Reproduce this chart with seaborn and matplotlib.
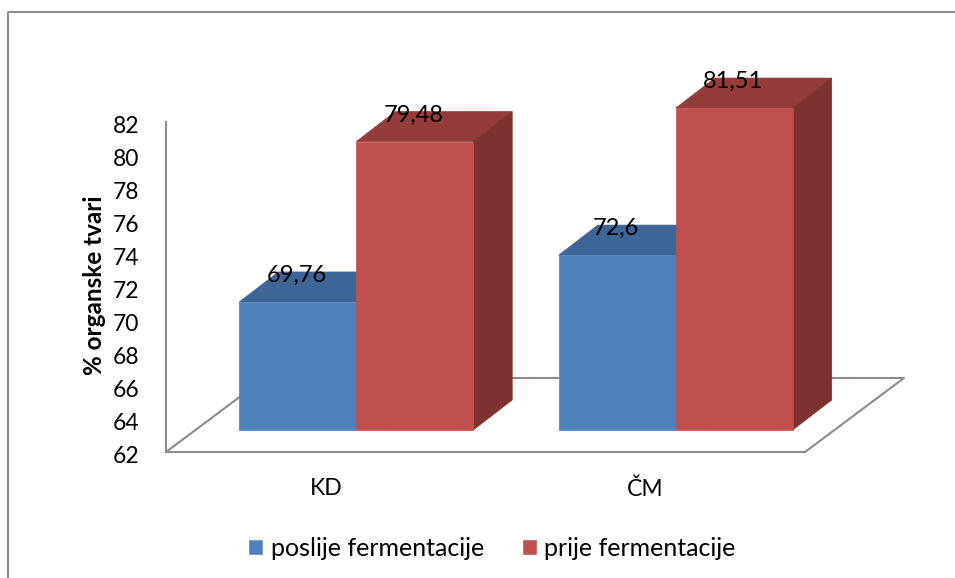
#!/usr/bin/env python3
# -*- coding: utf-8 -*-

"""
Organic matter before and after fermentation, drawn as Excel style 3D bars
"""

import pandas as pd
import seaborn as sns
import matplotlib.pyplot as plt
from matplotlib.lines import Line2D
from matplotlib.patches import Polygon
from matplotlib.transforms import IdentityTransform, ScaledTranslation

# data
categories = ['KD', 'ČM']
series_names = ['poslije fermentacije', 'prije fermentacije']
poslije = [69.76, 72.6]
prije = [79.48, 81.51]
value_labels = [['69,76', '72,6'], ['79,48', '81,51']]
y_ticks = list(range(62, 84, 2))

# colours: front, top, side
FACES = {
    series_names[0]: ('#4F81BD', '#3D6595', '#355A86'),
    series_names[1]: ('#C0504D', '#943C3A', '#7D3230'),
}
AXIS_COLOR = '#8C8C8C'
W, H = 955, 578


def main():
    sns.set_style('white')
    plt.rcParams['font.family'] = ['Lato', 'DejaVu Sans']

    df = pd.DataFrame({
        'kategorija': categories * 2,
        'serija': [series_names[0]] * 2 + [series_names[1]] * 2,
        'vrijednost': poslije + prije,
    })

    fig = plt.figure(figsize=(W / 100, H / 100), dpi=100)
    ax = fig.add_axes([166 / W, (H - 452) / H, 639 / W, 330 / H])
    ax.patch.set_alpha(0)

    palette = {k: v[0] for k, v in FACES.items()}
    sns.barplot(data=df, x='kategorija', y='vrijednost', hue='serija',
                hue_order=series_names, palette=palette, width=0.732, gap=0,
                saturation=1, ax=ax, legend=False, zorder=4)
    ax.set_ylim(62, 82)
    ax.set_xlim(-0.5, 1.5)
    fig.canvas.draw()

    to_px = ax.transData.transform

    # front face sits inside the floor, the rest is extruded backwards
    front_dx, front_dy = 30.5, 22
    depth_dx, depth_dy = 39, 30

    def poly(points, color, zorder):
        ax.add_patch(Polygon(points, closed=True, facecolor=color, edgecolor=color,
                             linewidth=0.5, transform=IdentityTransform(),
                             clip_on=False, zorder=zorder))

    for s, (name, container) in enumerate(zip(series_names, ax.containers)):
        front, top, side = FACES[name]
        for c, bar in enumerate(container):
            value = bar.get_height()
            x0 = bar.get_x()
            x1 = x0 + bar.get_width()
            (l, b) = to_px((x0, 62))
            (r, t) = to_px((x1, value))
            l, r = l + front_dx, r + front_dx
            b, t = b + front_dy, t + front_dy

            # seaborn bars start at zero, move them to the floor
            bar.set_visible(False)
            poly([(l, b), (r, b), (r, t), (l, t)], front, 4)
            poly([(l, t), (r, t), (r + depth_dx, t + depth_dy), (l + depth_dx, t + depth_dy)], top, 3)
            poly([(r, b), (r + depth_dx, b + depth_dy), (r + depth_dx, t + depth_dy), (r, t)], side, 3)
            ax.text((l + r) / 2 - 1, t + 26.5, value_labels[s][c], ha='center', va='center',
                    fontsize=17, color='black', transform=IdentityTransform(), zorder=6)

    # floor outline behind the bars
    (fl, fb) = to_px((-0.5, 62))
    (fr, _) = to_px((1.5, 62))
    floor_x = [fl, fl + 99, fr + 99, fr]
    floor_y = [fb, fb + 74, fb + 74, fb]
    ax.add_line(Line2D(floor_x, floor_y, color=AXIS_COLOR, lw=1.5, transform=IdentityTransform(),
                       clip_on=False, zorder=1))

    sns.despine(ax=ax)
    for side_name in ['left', 'bottom']:
        ax.spines[side_name].set_color(AXIS_COLOR)
        ax.spines[side_name].set_linewidth(1.5)

    ax.set_yticks(y_ticks)
    ax.tick_params(axis='y', length=0, pad=19, labelsize=16.5, labelcolor='black')
    ax.tick_params(axis='x', length=0, pad=19, labelsize=16.5, labelcolor='black')
    # nudge the numbers down a little
    nudge = ScaledTranslation(0, -1.5 / 72, fig.dpi_scale_trans)
    for label in ax.get_yticklabels():
        label.set_transform(label.get_transform() + nudge)
    ax.set_xlabel('')
    ax.set_ylabel('% organske tvari', fontsize=17.5, fontweight='bold', color='black')
    ax.yaxis.set_label_coords((106 - 166) / 639, (452 - 285) / 330)

    # legend
    handles = [plt.Rectangle((0, 0), 1, 1, facecolor=FACES[n][0]) for n in series_names]
    fig.legend(handles, series_names, ncol=2, frameon=False, fontsize=18,
               loc='center', bbox_to_anchor=(492 / W, (H - 548) / H),
               handlelength=0.6, handleheight=0.6, handletextpad=0.3, columnspacing=1.5,
               labelcolor='black')

    # chart frame, only top and left are inside the crop
    fig.add_artist(Line2D([7.5 / W, 7.5 / W, 1], [0, (H - 11.5) / H, (H - 11.5) / H],
                          color=AXIS_COLOR, lw=1.5, transform=fig.transFigure))

    fig.savefig('out.png', dpi=100, facecolor='white')
    plt.close(fig)


if __name__ == '__main__':
    main()
